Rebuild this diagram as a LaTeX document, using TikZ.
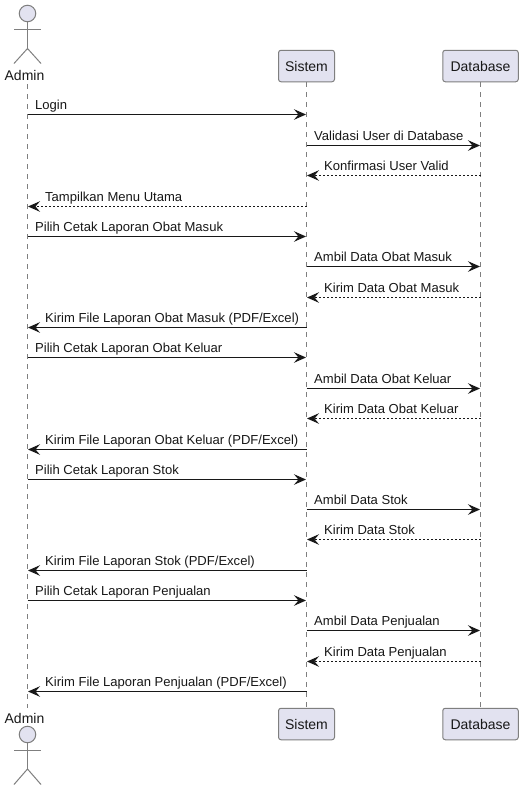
\documentclass[tikz,border=0pt]{standalone}
\usepackage{fontspec}
\setmainfont{Liberation Sans}
\usetikzlibrary{arrows.meta}
\definecolor{ink}{HTML}{181818}
\definecolor{boxfill}{HTML}{E2E2F0}
\definecolor{edge}{HTML}{7F7F7F}
\tikzset{
  x=1pt,y=1pt,
  party/.style={draw=edge,fill=boxfill,line width=1pt,rounded corners=2.5pt,minimum height=31.5pt,inner sep=0pt,font=\fontsize{14}{16}\selectfont,text=ink},
  actorlabel/.style={inner sep=0pt,font=\fontsize{14}{16}\selectfont,text=ink},
  lifeline/.style={draw=edge,line width=1pt,dash pattern=on 5pt off 5pt},
  limb/.style={draw=edge,line width=1pt},
  head/.style={circle,draw=edge,fill=boxfill,line width=1pt,minimum size=16.5pt,inner sep=0pt},
  msgtext/.style={inner sep=0pt,anchor=base west,font=\fontsize{13.05}{15}\selectfont,text=ink},
  call/.style={draw=ink,line width=1pt,-{Stealth[length=12pt,width=10.5pt,inset=4.5pt]},shorten >=0.5pt},
  reply/.style={call,dash pattern=on 2pt off 2pt}
}
\newcommand{\msg}[6]{%
  % id, y, from x, to x, style, label
  \coordinate (f#1) at (#3,-#2);
  \coordinate (t#1) at (#4,-#2);
  \draw[#5] (f#1) -- (t#1);
  \pgfmathsetmacro{\lx}{#3<#4 ? #3+7.5 : #4+17.5}
  \node[msgtext] (l#1) at (\lx,-#2+4.7) {#6};
}
\begin{document}
\begin{tikzpicture}
\useasboundingbox (0,0) rectangle (523,-790);
\fill[white] (0,0) rectangle (523,-790);

% lifelines
\coordinate (aT) at (27.5,-84);
\coordinate (aB) at (27.5,-708);
\node[party,minimum width=56pt] (sT) at (306.5,-66) {Sistem};
\node[party,minimum width=75.5pt] (dT) at (480.5,-66) {Database};
\node[party,minimum width=56pt] (sB) at (306.5,-724) {Sistem};
\node[party,minimum width=75.5pt] (dB) at (480.5,-724) {Database};
\draw[lifeline] (aT) -- (aB);
\draw[lifeline] (sT.south) -- (sB.north);
\draw[lifeline] (dT.south) -- (dB.north);

% top actor
\node[head] (h1) at (27.5,-13.5) {};
\coordinate (b1) at (27.5,-48.5);
\coordinate (al1) at (14,-29);
\coordinate (ar1) at (41,-29);
\coordinate (ll1) at (14,-63.5);
\coordinate (lr1) at (41,-63.5);
\draw[limb] (h1.south) -- (b1);
\draw[limb] (al1) -- (ar1);
\draw[limb] (ll1) -- (b1) -- (lr1);
\node[actorlabel] (n1) at (24.5,-75) {Admin};

% bottom actor
\node[actorlabel] (n2) at (24.5,-718) {Admin};
\node[head] (h2) at (27.5,-734.5) {};
\coordinate (b2) at (27.5,-769);
\coordinate (al2) at (14,-750);
\coordinate (ar2) at (41,-750);
\coordinate (ll2) at (14,-784.5);
\coordinate (lr2) at (41,-784.5);
\draw[limb] (h2.south) -- (b2);
\draw[limb] (al2) -- (ar2);
\draw[limb] (ll2) -- (b2) -- (lr2);

% messages
\def\A{27.5}\def\S{306.5}\def\D{480.5}
\msg{1}{114.5}{\A}{\S}{call}{Login}
\msg{2}{145.5}{\S}{\D}{call}{Validasi User di Database}
\msg{3}{175.5}{\D}{\S}{reply}{Konfirmasi User Valid}
\msg{4}{206.5}{\S}{\A}{reply}{Tampilkan Menu Utama}
\msg{5}{236.5}{\A}{\S}{call}{Pilih Cetak Laporan Obat Masuk}
\msg{6}{266.5}{\S}{\D}{call}{Ambil Data Obat Masuk}
\msg{7}{297.5}{\D}{\S}{reply}{Kirim Data Obat Masuk}
\msg{8}{327.5}{\S}{\A}{call}{Kirim File Laporan Obat Masuk (PDF/Excel)}
\msg{9}{357.5}{\A}{\S}{call}{Pilih Cetak Laporan Obat Keluar}
\msg{10}{388.5}{\S}{\D}{call}{Ambil Data Obat Keluar}
\msg{11}{418.5}{\D}{\S}{reply}{Kirim Data Obat Keluar}
\msg{12}{449.5}{\S}{\A}{call}{Kirim File Laporan Obat Keluar (PDF/Excel)}
\msg{13}{479.5}{\A}{\S}{call}{Pilih Cetak Laporan Stok}
\msg{14}{509.5}{\S}{\D}{call}{Ambil Data Stok}
\msg{15}{539.5}{\D}{\S}{reply}{Kirim Data Stok}
\msg{16}{570.5}{\S}{\A}{call}{Kirim File Laporan Stok (PDF/Excel)}
\msg{17}{600.5}{\A}{\S}{call}{Pilih Cetak Laporan Penjualan}
\msg{18}{630.5}{\S}{\D}{call}{Ambil Data Penjualan}
\msg{19}{661.5}{\D}{\S}{reply}{Kirim Data Penjualan}
\msg{20}{691.5}{\S}{\A}{call}{Kirim File Laporan Penjualan (PDF/Excel)}
\end{tikzpicture}
\end{document}
